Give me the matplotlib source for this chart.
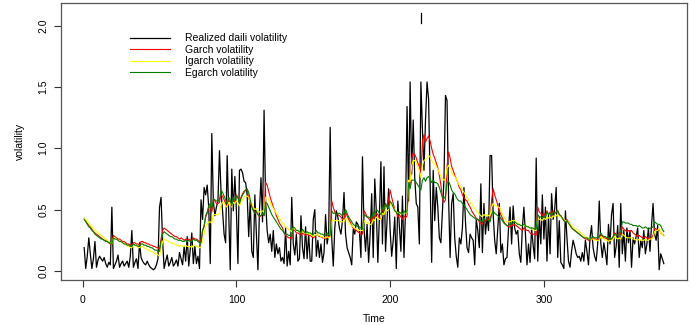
import numpy as np
import matplotlib
matplotlib.use('Agg')
import matplotlib.pyplot as plt

plt.rcParams['font.family'] = ['Liberation Sans', 'DejaVu Sans']

# ---------------------------------------------------------------------------
# Data, t = 1 .. 378
# ---------------------------------------------------------------------------
realized = [
    0.19, 0.02, 0.12, 0.27, 0.14, 0.02, 0.10, 0.24, 0.03, 0.09,
    0.12, 0.10, 0.08, 0.11, 0.06, 0.03, 0.07, 0.05, 0.52, 0.02,
    0.05, 0.08, 0.13, 0.03, 0.06, 0.08, 0.04, 0.06, 0.08, 0.03,
    0.12, 0.33, 0.03, 0.07, 0.10, 0.02, 0.23, 0.11, 0.08, 0.06,
    0.05, 0.08, 0.05, 0.03, 0.02, 0.01, 0.02, 0.05, 0.10, 0.52,
    0.60, 0.25, 0.02, 0.08, 0.13, 0.04, 0.07, 0.11, 0.04, 0.06,
    0.09, 0.04, 0.15, 0.10, 0.05, 0.20, 0.08, 0.28, 0.04, 0.18,
    0.31, 0.06, 0.20, 0.06, 0.12, 0.02, 0.58, 0.42, 0.68, 0.62,
    0.70, 0.52, 0.06, 1.12, 0.57, 0.45, 0.52, 0.57, 0.98, 0.65,
    0.49, 0.30, 0.23, 0.94, 0.49, 0.01, 0.83, 0.49, 0.77, 0.49,
    0.06, 0.82, 0.83, 0.80, 0.73, 0.72, 0.62, 0.28, 0.57, 0.16,
    0.11, 0.62, 0.30, 0.01, 0.49, 0.76, 0.40, 1.31, 0.57, 0.33,
    0.23, 0.30, 0.16, 0.33, 0.11, 0.22, 0.14, 0.19, 0.08, 0.11,
    0.06, 0.35, 0.04, 0.16, 0.05, 0.60, 0.22, 0.13, 0.30, 0.08,
    0.10, 0.45, 0.19, 0.10, 0.36, 0.10, 0.30, 0.08, 0.08, 0.42,
    0.50, 0.12, 0.25, 0.11, 0.22, 0.07, 0.15, 0.46, 0.22, 0.30,
    1.17, 0.27, 0.04, 0.35, 0.49, 0.44, 0.35, 0.30, 0.41, 0.64,
    0.30, 0.19, 0.15, 0.11, 0.05, 0.34, 0.30, 0.40, 0.38, 0.33,
    0.11, 0.93, 0.35, 0.16, 0.38, 0.07, 0.30, 0.63, 0.11, 0.75,
    0.49, 0.07, 0.44, 0.89, 0.22, 0.85, 0.16, 0.41, 0.67, 0.33,
    0.12, 0.25, 0.44, 0.02, 0.57, 0.37, 0.16, 0.61, 0.11, 0.49,
    1.34, 0.57, 1.54, 0.79, 1.23, 0.76, 0.55, 0.52, 0.22, 1.54,
    1.15, 0.82, 1.23, 1.54, 1.40, 0.74, 0.07, 0.82, 0.41, 0.68,
    0.52, 0.27, 0.23, 0.49, 0.74, 1.43, 1.39, 0.60, 0.11, 0.55,
    0.63, 0.27, 0.12, 0.03, 0.27, 0.22, 0.35, 0.68, 0.40, 0.19,
    0.15, 0.30, 0.27, 0.25, 0.05, 0.42, 0.33, 0.19, 0.71, 0.15,
    0.55, 0.30, 0.44, 0.33, 0.94, 0.94, 0.46, 0.25, 0.14, 0.35,
    0.55, 0.15, 0.22, 0.05, 0.10, 0.11, 0.35, 0.52, 0.22, 0.53,
    0.35, 0.30, 0.33, 0.14, 0.07, 0.35, 0.52, 0.30, 0.05, 0.22,
    0.07, 0.35, 0.21, 0.10, 0.92, 0.08, 0.44, 0.22, 0.62, 0.26,
    0.52, 0.08, 0.46, 0.14, 0.63, 0.42, 0.50, 0.68, 0.11, 0.41,
    0.07, 0.05, 0.02, 0.49, 0.27, 0.08, 0.03, 0.16, 0.25, 0.20,
    0.14, 0.11, 0.12, 0.08, 0.15, 0.08, 0.25, 0.16, 0.05, 0.27,
    0.37, 0.19, 0.12, 0.08, 0.22, 0.57, 0.23, 0.11, 0.23, 0.15,
    0.05, 0.38, 0.22, 0.46, 0.55, 0.11, 0.20, 0.37, 0.03, 0.55,
    0.14, 0.33, 0.08, 0.35, 0.23, 0.33, 0.03, 0.27, 0.22, 0.28,
    0.35, 0.11, 0.25, 0.19, 0.33, 0.14, 0.22, 0.35, 0.16, 0.37,
    0.55, 0.30, 0.25, 0.37, 0.01, 0.14, 0.10, 0.06,
]

garch = [
    0.43, 0.41, 0.39, 0.37, 0.36, 0.34, 0.32, 0.31, 0.30, 0.29,
    0.28, 0.27, 0.26, 0.25, 0.25, 0.24, 0.23, 0.22, 0.22, 0.29,
    0.28, 0.27, 0.26, 0.26, 0.25, 0.24, 0.24, 0.23, 0.22, 0.22,
    0.21, 0.21, 0.23, 0.23, 0.22, 0.22, 0.21, 0.24, 0.24, 0.23,
    0.23, 0.22, 0.22, 0.21, 0.21, 0.20, 0.20, 0.19, 0.19, 0.18,
    0.26, 0.33, 0.35, 0.34, 0.33, 0.32, 0.31, 0.30, 0.29, 0.28,
    0.28, 0.27, 0.26, 0.27, 0.26, 0.25, 0.26, 0.25, 0.26, 0.25,
    0.25, 0.27, 0.26, 0.26, 0.25, 0.24, 0.23, 0.33, 0.36, 0.44,
    0.47, 0.52, 0.52, 0.48, 0.58, 0.57, 0.55, 0.55, 0.56, 0.62,
    0.61, 0.58, 0.55, 0.52, 0.58, 0.56, 0.52, 0.58, 0.56, 0.62,
    0.60, 0.55, 0.60, 0.63, 0.65, 0.66, 0.66, 0.60, 0.55, 0.53,
    0.50, 0.47, 0.48, 0.46, 0.44, 0.45, 0.47, 0.45, 0.72, 0.70,
    0.65, 0.60, 0.56, 0.52, 0.49, 0.45, 0.42, 0.39, 0.37, 0.35,
    0.31, 0.29, 0.28, 0.27, 0.27, 0.26, 0.34, 0.33, 0.31, 0.31,
    0.30, 0.29, 0.31, 0.30, 0.29, 0.30, 0.29, 0.29, 0.28, 0.27,
    0.28, 0.30, 0.29, 0.28, 0.28, 0.27, 0.27, 0.26, 0.29, 0.28,
    0.28, 0.57, 0.52, 0.48, 0.46, 0.46, 0.45, 0.44, 0.42, 0.43,
    0.48, 0.45, 0.42, 0.40, 0.37, 0.35, 0.34, 0.33, 0.32, 0.31,
    0.30, 0.30, 0.49, 0.47, 0.44, 0.43, 0.41, 0.40, 0.45, 0.43,
    0.47, 0.46, 0.43, 0.42, 0.52, 0.50, 0.55, 0.52, 0.58, 0.66,
    0.60, 0.55, 0.50, 0.48, 0.44, 0.46, 0.44, 0.42, 0.45, 0.43,
    0.45, 0.71, 0.70, 0.92, 0.96, 0.95, 0.92, 0.88, 0.85, 0.80,
    1.05, 1.11, 1.05, 1.08, 1.10, 1.06, 1.00, 0.95, 0.92, 0.88,
    0.84, 0.78, 0.70, 0.60, 0.56, 0.58, 0.85, 0.97, 0.92, 0.85,
    0.82, 0.78, 0.75, 0.72, 0.68, 0.66, 0.62, 0.60, 0.58, 0.57,
    0.54, 0.52, 0.49, 0.47, 0.45, 0.43, 0.42, 0.40, 0.39, 0.38,
    0.42, 0.40, 0.43, 0.42, 0.41, 0.58, 0.67, 0.62, 0.58, 0.54,
    0.49, 0.46, 0.43, 0.40, 0.38, 0.37, 0.36, 0.36, 0.38, 0.37,
    0.38, 0.37, 0.36, 0.35, 0.34, 0.33, 0.35, 0.34, 0.33, 0.33,
    0.31, 0.30, 0.30, 0.30, 0.29, 0.52, 0.48, 0.47, 0.45, 0.47,
    0.45, 0.49, 0.46, 0.48, 0.45, 0.49, 0.47, 0.48, 0.49, 0.46,
    0.45, 0.43, 0.41, 0.40, 0.42, 0.40, 0.38, 0.36, 0.34, 0.33,
    0.32, 0.31, 0.30, 0.29, 0.28, 0.27, 0.26, 0.26, 0.25, 0.25,
    0.26, 0.27, 0.26, 0.26, 0.25, 0.26, 0.30, 0.28, 0.27, 0.27,
    0.26, 0.25, 0.27, 0.26, 0.28, 0.31, 0.30, 0.29, 0.31, 0.30,
    0.36, 0.34, 0.33, 0.32, 0.33, 0.32, 0.33, 0.31, 0.30, 0.29,
    0.28, 0.29, 0.28, 0.27, 0.27, 0.28, 0.27, 0.26, 0.27, 0.27,
    0.29, 0.35, 0.34, 0.33, 0.34, 0.31, 0.30, 0.29,
]

igarch = [
    0.43, 0.42, 0.40, 0.39, 0.37, 0.36, 0.34, 0.33, 0.32, 0.31,
    0.30, 0.29, 0.28, 0.27, 0.26, 0.25, 0.24, 0.23, 0.22, 0.27,
    0.27, 0.26, 0.25, 0.24, 0.24, 0.23, 0.22, 0.21, 0.21, 0.20,
    0.19, 0.19, 0.21, 0.21, 0.20, 0.19, 0.19, 0.20, 0.20, 0.19,
    0.18, 0.18, 0.17, 0.16, 0.16, 0.15, 0.14, 0.14, 0.13, 0.12,
    0.18, 0.24, 0.26, 0.25, 0.25, 0.24, 0.23, 0.23, 0.22, 0.22,
    0.21, 0.21, 0.20, 0.21, 0.20, 0.20, 0.21, 0.20, 0.20, 0.20,
    0.19, 0.21, 0.21, 0.20, 0.20, 0.19, 0.19, 0.26, 0.30, 0.36,
    0.38, 0.40, 0.40, 0.39, 0.46, 0.46, 0.46, 0.46, 0.47, 0.54,
    0.56, 0.55, 0.53, 0.52, 0.56, 0.55, 0.52, 0.56, 0.55, 0.57,
    0.56, 0.53, 0.56, 0.58, 0.60, 0.61, 0.61, 0.60, 0.56, 0.55,
    0.52, 0.50, 0.51, 0.49, 0.48, 0.48, 0.49, 0.48, 0.60, 0.60,
    0.58, 0.56, 0.53, 0.51, 0.49, 0.47, 0.45, 0.43, 0.41, 0.39,
    0.38, 0.36, 0.35, 0.34, 0.33, 0.32, 0.35, 0.34, 0.33, 0.33,
    0.32, 0.31, 0.32, 0.31, 0.31, 0.31, 0.30, 0.30, 0.29, 0.28,
    0.29, 0.30, 0.29, 0.29, 0.28, 0.28, 0.27, 0.27, 0.28, 0.27,
    0.27, 0.42, 0.41, 0.41, 0.41, 0.41, 0.41, 0.40, 0.40, 0.40,
    0.43, 0.42, 0.40, 0.38, 0.37, 0.36, 0.35, 0.34, 0.34, 0.33,
    0.33, 0.33, 0.41, 0.40, 0.39, 0.39, 0.38, 0.38, 0.42, 0.41,
    0.44, 0.43, 0.42, 0.42, 0.47, 0.46, 0.50, 0.49, 0.50, 0.55,
    0.54, 0.52, 0.50, 0.49, 0.47, 0.48, 0.47, 0.46, 0.48, 0.47,
    0.48, 0.74, 0.73, 0.86, 0.90, 0.90, 0.88, 0.85, 0.82, 0.76,
    0.86, 0.90, 0.91, 0.92, 0.94, 0.93, 0.90, 0.88, 0.87, 0.85,
    0.83, 0.80, 0.77, 0.75, 0.74, 0.75, 0.84, 0.86, 0.84, 0.81,
    0.78, 0.77, 0.75, 0.72, 0.70, 0.68, 0.66, 0.64, 0.62, 0.60,
    0.58, 0.56, 0.55, 0.53, 0.51, 0.49, 0.48, 0.46, 0.45, 0.44,
    0.46, 0.45, 0.46, 0.45, 0.45, 0.52, 0.55, 0.54, 0.53, 0.52,
    0.52, 0.49, 0.46, 0.44, 0.42, 0.40, 0.40, 0.40, 0.41, 0.41,
    0.41, 0.40, 0.39, 0.38, 0.37, 0.37, 0.37, 0.37, 0.36, 0.36,
    0.35, 0.34, 0.34, 0.33, 0.33, 0.44, 0.42, 0.42, 0.41, 0.43,
    0.42, 0.44, 0.43, 0.44, 0.43, 0.45, 0.44, 0.45, 0.46, 0.44,
    0.44, 0.43, 0.42, 0.41, 0.41, 0.40, 0.38, 0.37, 0.35, 0.34,
    0.34, 0.33, 0.32, 0.31, 0.30, 0.29, 0.28, 0.27, 0.27, 0.26,
    0.26, 0.26, 0.25, 0.25, 0.25, 0.25, 0.28, 0.27, 0.26, 0.25,
    0.25, 0.24, 0.25, 0.25, 0.26, 0.28, 0.27, 0.26, 0.27, 0.26,
    0.30, 0.29, 0.28, 0.27, 0.27, 0.27, 0.27, 0.26, 0.26, 0.25,
    0.25, 0.26, 0.25, 0.25, 0.25, 0.26, 0.25, 0.25, 0.26, 0.26,
    0.27, 0.32, 0.33, 0.33, 0.35, 0.31, 0.30, 0.28,
]

egarch = [
    0.42, 0.40, 0.38, 0.36, 0.35, 0.33, 0.32, 0.30, 0.29, 0.28,
    0.27, 0.26, 0.26, 0.25, 0.24, 0.24, 0.23, 0.23, 0.22, 0.27,
    0.26, 0.26, 0.25, 0.24, 0.24, 0.23, 0.22, 0.22, 0.21, 0.21,
    0.20, 0.20, 0.22, 0.21, 0.21, 0.20, 0.20, 0.22, 0.22, 0.21,
    0.21, 0.20, 0.20, 0.19, 0.19, 0.18, 0.17, 0.17, 0.16, 0.16,
    0.24, 0.30, 0.32, 0.31, 0.30, 0.29, 0.28, 0.28, 0.27, 0.26,
    0.26, 0.25, 0.25, 0.25, 0.24, 0.24, 0.25, 0.24, 0.25, 0.24,
    0.24, 0.26, 0.25, 0.25, 0.24, 0.23, 0.23, 0.33, 0.37, 0.45,
    0.48, 0.53, 0.55, 0.50, 0.59, 0.58, 0.57, 0.57, 0.58, 0.66,
    0.64, 0.61, 0.58, 0.55, 0.60, 0.58, 0.53, 0.60, 0.58, 0.61,
    0.60, 0.55, 0.59, 0.62, 0.64, 0.66, 0.67, 0.64, 0.58, 0.52,
    0.49, 0.47, 0.49, 0.46, 0.45, 0.45, 0.47, 0.45, 0.56, 0.55,
    0.52, 0.49, 0.46, 0.44, 0.42, 0.40, 0.38, 0.36, 0.34, 0.33,
    0.31, 0.30, 0.30, 0.29, 0.29, 0.28, 0.36, 0.35, 0.33, 0.33,
    0.32, 0.31, 0.34, 0.32, 0.31, 0.32, 0.31, 0.31, 0.30, 0.30,
    0.31, 0.33, 0.31, 0.31, 0.30, 0.30, 0.29, 0.29, 0.31, 0.29,
    0.29, 0.49, 0.47, 0.47, 0.46, 0.47, 0.47, 0.46, 0.45, 0.47,
    0.50, 0.47, 0.44, 0.42, 0.40, 0.38, 0.37, 0.37, 0.36, 0.36,
    0.35, 0.34, 0.46, 0.45, 0.44, 0.44, 0.43, 0.43, 0.48, 0.46,
    0.50, 0.49, 0.47, 0.46, 0.52, 0.50, 0.55, 0.52, 0.51, 0.57,
    0.55, 0.52, 0.49, 0.48, 0.46, 0.48, 0.47, 0.46, 0.49, 0.47,
    0.49, 0.72, 0.67, 0.74, 0.74, 0.74, 0.72, 0.70, 0.68, 0.66,
    0.74, 0.76, 0.73, 0.76, 0.77, 0.75, 0.72, 0.74, 0.72, 0.72,
    0.71, 0.68, 0.64, 0.60, 0.59, 0.61, 0.72, 0.73, 0.70, 0.66,
    0.64, 0.63, 0.60, 0.58, 0.57, 0.57, 0.55, 0.54, 0.52, 0.50,
    0.48, 0.46, 0.45, 0.44, 0.43, 0.42, 0.42, 0.41, 0.41, 0.40,
    0.43, 0.41, 0.42, 0.41, 0.40, 0.46, 0.49, 0.47, 0.46, 0.45,
    0.44, 0.43, 0.41, 0.39, 0.38, 0.37, 0.37, 0.38, 0.39, 0.39,
    0.40, 0.39, 0.38, 0.38, 0.37, 0.37, 0.38, 0.37, 0.36, 0.36,
    0.35, 0.35, 0.35, 0.34, 0.34, 0.46, 0.44, 0.44, 0.43, 0.45,
    0.44, 0.48, 0.46, 0.47, 0.45, 0.48, 0.47, 0.48, 0.49, 0.46,
    0.45, 0.43, 0.41, 0.40, 0.41, 0.39, 0.37, 0.35, 0.34, 0.33,
    0.32, 0.31, 0.30, 0.29, 0.28, 0.27, 0.27, 0.27, 0.26, 0.26,
    0.27, 0.28, 0.27, 0.27, 0.27, 0.28, 0.31, 0.29, 0.28, 0.28,
    0.27, 0.26, 0.27, 0.26, 0.28, 0.30, 0.29, 0.29, 0.31, 0.32,
    0.40, 0.40, 0.39, 0.39, 0.39, 0.38, 0.38, 0.37, 0.37, 0.37,
    0.36, 0.37, 0.36, 0.35, 0.35, 0.36, 0.35, 0.34, 0.35, 0.35,
    0.36, 0.40, 0.39, 0.38, 0.38, 0.37, 0.34, 0.32,
]

# short stray segment drawn near the top of the panel
stray_t = [220, 220]
stray_v = [2.02, 2.10]

labels = ['Realized daili volatility', 'Garch volatility',
          'Igarch volatility', 'Egarch volatility']
colors = ['black', '#ff0000', '#ffff00', '#008000']

t = np.arange(1, len(realized) + 1)

# ---------------------------------------------------------------------------
# Plot (R base-graphics look)
# ---------------------------------------------------------------------------
fig = plt.figure(figsize=(6.91, 3.25), dpi=100)
ax = fig.add_axes([61 / 691, 1 - 280 / 325, 626 / 691, 277 / 325])

series = [realized, garch, igarch, egarch]
widths = [0.9, 0.8, 0.8, 0.8]
for vals, col, lab, lw in zip(series, colors, labels, widths):
    ax.plot(t, vals, color=col, linewidth=lw, label=lab)
ax.plot(stray_t, stray_v, color='black', linewidth=0.9)

# R style 4% axis padding
x0, x1 = t.min(), t.max()
y0 = min(min(s) for s in series)
y1 = max(max(max(s) for s in series), max(stray_v))
ax.set_xlim(x0 - 0.04 * (x1 - x0), x1 + 0.04 * (x1 - x0))
ax.set_ylim(y0 - 0.04 * (y1 - y0), y1 + 0.04 * (y1 - y0))

ax.set_xticks([0, 100, 200, 300])
ax.set_yticks([0.0, 0.5, 1.0, 1.5, 2.0])
ax.set_yticklabels(['0.0', '0.5', '1.0', '1.5', '2.0'], rotation=90, va='center')
ax.tick_params(direction='out', length=5, width=0.8, labelsize=7.5, pad=6,
               color='#333333')
ax.tick_params(axis='y', pad=4)
for sp in ax.spines.values():
    sp.set_color('#555555')
    sp.set_linewidth(0.9)

ax.set_xlabel('Time', fontsize=7.5, labelpad=6)
ax.set_ylabel('volatility', fontsize=7.5, labelpad=10)

ax.legend(loc='upper left', bbox_to_anchor=(0.110, 0.89), frameon=False,
          fontsize=7.5, handlelength=3.9, handletextpad=1.4,
          labelspacing=0.14, borderpad=0, borderaxespad=0)

fig.savefig('out.png', dpi=100)
plt.close(fig)
